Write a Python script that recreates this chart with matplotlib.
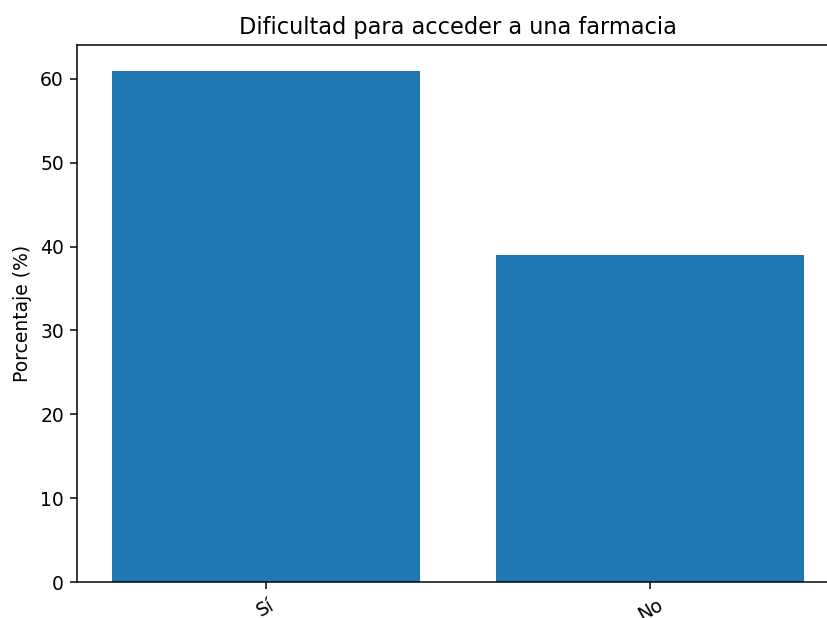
import matplotlib
matplotlib.use("Agg")
import matplotlib.pyplot as plt

# survey answers and their share
categories = ["Sí", "No"]
percentages = [61, 39]

dpi = 135
fig = plt.figure(figsize=(827 / dpi, 618 / dpi), dpi=dpi)
# the original image is cropped on the right, so the axes runs past the edge
ax = fig.add_axes([77 / 827, 1 - 582 / 618, (839 - 77) / 827, (582 - 45) / 618])

ax.bar(categories, percentages, color="#1f77b4")
ax.set_title("Dificultad para acceder a una farmacia")
ax.set_ylabel("Porcentaje (%)")
plt.setp(ax.get_xticklabels(), rotation=30)

fig.savefig("out.png", dpi=dpi)
